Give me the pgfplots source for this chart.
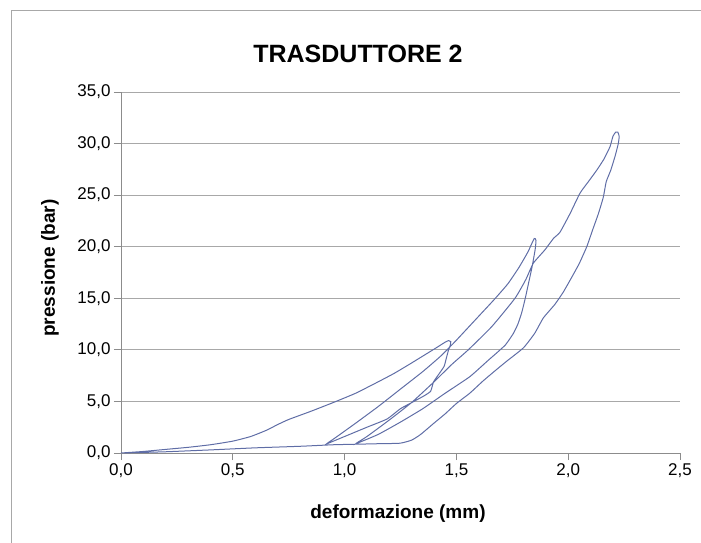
\documentclass[border=0pt]{standalone}
\usepackage{fontspec}
\setmainfont{Liberation Sans}
\usepackage{pgfplots}
\usepackage{pgfplotstable}
\pgfplotsset{compat=1.18}
\definecolor{curveblue}{HTML}{5F6DA6}
\definecolor{gridgray}{HTML}{A8A8A8}
\definecolor{axisgray}{HTML}{8C8C8C}

% one continuous load/unload path: deformazione (mm), pressione (bar)
\pgfplotstableread{
x y
0.00 0.00
0.10 0.15
0.20 0.35
0.30 0.55
0.40 0.80
0.50 1.15
0.58 1.60
0.65 2.20
0.70 2.75
0.75 3.25
0.85 4.05
0.95 4.90
1.05 5.80
1.15 6.90
1.22 7.70
1.29 8.60
1.35 9.40
1.41 10.20
1.45 10.75
1.465 10.90
1.475 10.80
1.472 10.40
1.465 10.00
1.455 9.20
1.445 8.40
1.42 7.60
1.398 6.90
1.385 6.00
1.36 5.60
1.31 5.00
1.25 4.30
1.19 3.30
1.10 2.50
1.00 1.60
0.95 1.15
0.92 0.90
0.96 1.50
1.05 2.90
1.15 4.50
1.25 6.20
1.35 7.90
1.43 9.40
1.494 10.80
1.55 12.10
1.61 13.50
1.67 14.90
1.73 16.40
1.78 18.00
1.82 19.50
1.848 20.80
1.856 20.60
1.852 19.70
1.838 18.00
1.823 16.50
1.808 15.00
1.792 13.60
1.775 12.50
1.755 11.60
1.72 10.50
1.68 9.70
1.643 9.00
1.56 7.40
1.45 5.80
1.35 4.30
1.25 3.00
1.15 1.80
1.05 0.90
1.10 1.60
1.20 3.20
1.30 4.90
1.40 6.90
1.48 8.60
1.553 10.00
1.658 12.25
1.762 15.00
1.81 16.80
1.844 18.40
1.896 19.70
1.934 20.80
1.963 21.40
2.008 23.20
2.053 25.20
2.09 26.30
2.127 27.40
2.16 28.50
2.187 29.70
2.200 30.70
2.212 31.10
2.222 31.10
2.228 30.70
2.224 30.00
2.21 28.80
2.19 27.40
2.17 26.30
2.157 24.80
2.135 23.20
2.112 21.80
2.083 20.00
2.05 18.40
2.02 17.20
1.978 15.60
1.94 14.40
1.889 13.10
1.85 11.60
1.80 10.20
1.725 8.90
1.68 8.10
1.62 7.00
1.56 5.80
1.50 4.80
1.45 3.80
1.40 2.90
1.34 1.80
1.30 1.25
1.248 0.95
1.15 0.90
1.05 0.85
0.95 0.80
0.80 0.65
0.60 0.50
0.40 0.30
0.20 0.12
0.00 0.00
}\curve

\begin{document}
\begin{tikzpicture}
\useasboundingbox (-121pt,-90pt) rectangle (580pt,453pt);
% chart frame (top and left edges visible)
\draw[gridgray, line width=0.8pt] (580pt,443pt) -- (-110pt,443pt) -- (-110pt,-90pt);

\begin{axis}[
    at={(0,0)}, anchor=south west,
    scale only axis,
    width=559pt, height=361pt,
    xmin=0, xmax=2.5, ymin=0, ymax=35,
    xtick={0,0.5,1,1.5,2,2.5},
    ytick={0,5,10,15,20,25,30,35},
    axis x line*=bottom, axis y line*=left,
    axis line style={axisgray, line width=0.8pt, -},
    ymajorgrids,
    major grid style={gridgray, line width=0.8pt},
    tick align=outside,
    major tick length=7pt,
    tick style={axisgray, line width=0.8pt},
    /pgf/number format/assume math mode=true,
    xticklabel={\pgfmathprintnumber[use comma,fixed,fixed zerofill,precision=1]{\tick}},
    yticklabel={\pgfmathprintnumber[use comma,fixed,fixed zerofill,precision=1]{\tick}},
    ticklabel style={font=\fontsize{17}{20}\selectfont},
    clip=false,
]
\addplot[curveblue, line width=1pt, smooth, tension=0.3] table[x=x, y=y] {\curve};
\end{axis}

\node[font=\fontsize{25}{30}\selectfont\bfseries] at (237pt,399pt) {TRASDUTTORE 2};
\node[font=\fontsize{19}{23}\selectfont\bfseries, anchor=base] at (277pt,-65pt) {deformazione (mm)};
\node[font=\fontsize{19}{23}\selectfont\bfseries, rotate=90] at (-71pt,185pt) {pressione (bar)};
\end{tikzpicture}
\end{document}
